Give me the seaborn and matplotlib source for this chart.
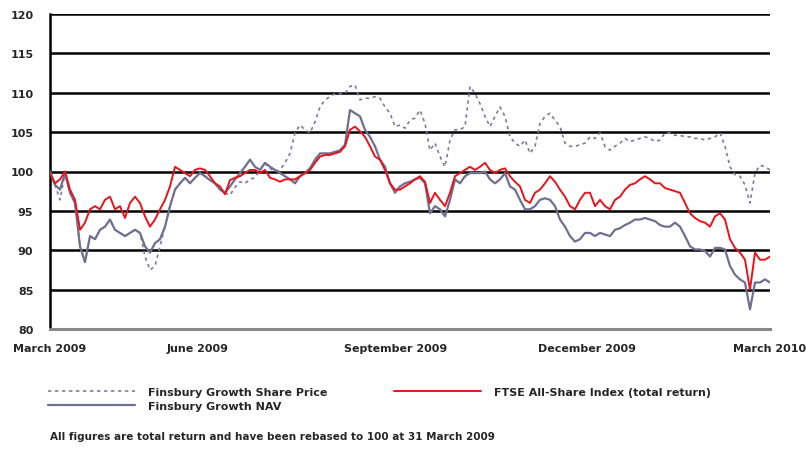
import numpy as np
import pandas as pd
import matplotlib
matplotlib.use("Agg")
import matplotlib.pyplot as plt
import seaborn as sns

start_date = "2009-03-31"
end_date = "2010-03-31"

ftse = [99.8, 98.5, 99.0, 100.0, 97.7, 96.4, 92.6, 93.5, 95.2, 95.6, 95.2, 96.4, 96.8, 95.2, 95.6,
        94.1, 96.0, 96.8, 96.0, 94.3, 93.0, 93.9, 95.2, 96.4, 98.1, 100.6, 100.2, 99.8, 99.4, 100.2,
        100.4, 100.2, 99.4, 98.5, 98.1, 97.1, 98.9, 99.2, 99.4, 99.8, 100.2, 100.2, 99.8, 100.2, 99.2,
        99.0, 98.7, 99.0, 99.0, 99.0, 99.4, 99.8, 100.2, 101.1, 101.9, 102.1, 102.1, 102.3, 102.5, 103.2,
        105.3, 105.7, 105.1, 104.4, 103.2, 101.9, 101.5, 100.2, 98.5, 97.7, 97.7, 98.1, 98.5, 99.0, 99.4,
        98.7, 96.0, 97.3, 96.4, 95.6, 97.3, 99.4, 99.8, 100.2, 100.6, 100.2, 100.6, 101.1, 100.2, 99.8,
        100.2, 100.4, 99.4, 98.7, 98.1, 96.4, 96.0, 97.3, 97.7, 98.5, 99.4, 98.7, 97.7, 96.8, 95.6,
        95.2, 96.4, 97.3, 97.3, 95.6, 96.4, 95.6, 95.2, 96.4, 96.8, 97.7, 98.3, 98.5, 99.0, 99.4,
        99.0, 98.5, 98.5, 97.9, 97.7, 97.5, 97.3, 96.0, 94.7, 94.1, 93.7, 93.5, 93.0, 94.3, 94.7,
        93.9, 91.4, 90.3, 89.7, 88.8, 85.0, 89.7, 88.8, 88.8, 89.2]

nav = [100.0, 98.3, 97.7, 99.8, 97.3, 96.0, 90.5, 88.5, 91.8, 91.4, 92.6, 93.0, 93.9, 92.6, 92.2,
       91.8, 92.2, 92.6, 92.2, 90.5, 89.7, 90.9, 91.4, 93.0, 95.6, 97.7, 98.5, 99.2, 98.5, 99.2,
       99.8, 99.4, 98.9, 98.5, 97.7, 97.3, 98.1, 99.0, 99.8, 100.6, 101.5, 100.6, 100.2, 101.1, 100.6,
       100.2, 99.8, 99.4, 99.0, 98.5, 99.4, 99.8, 100.4, 101.5, 102.3, 102.3, 102.3, 102.5, 102.7, 103.4,
       107.8, 107.4, 107.0, 105.3, 104.4, 103.2, 101.5, 100.6, 98.5, 97.3, 98.1, 98.5, 98.7, 99.0, 99.2,
       98.5, 94.7, 95.6, 95.2, 94.3, 96.4, 99.0, 98.5, 99.4, 99.8, 99.8, 99.8, 100.0, 99.0, 98.5,
       99.0, 99.8, 98.1, 97.7, 96.4, 95.2, 95.2, 95.6, 96.4, 96.6, 96.4, 95.6, 93.9, 93.0, 91.8,
       91.1, 91.4, 92.2, 92.2, 91.8, 92.2, 92.0, 91.8, 92.6, 92.8, 93.2, 93.5, 93.9, 93.9, 94.1,
       93.9, 93.7, 93.2, 93.0, 93.0, 93.5, 93.0, 91.8, 90.5, 90.1, 90.1, 89.9, 89.2, 90.3, 90.3,
       90.1, 88.0, 86.9, 86.3, 85.9, 82.5, 85.9, 85.9, 86.3, 85.9]

share = [100.0, 98.3, 96.4, 99.8, 97.3, 96.0, 90.5, 88.5, 91.8, 91.4, 92.6, 93.0, 93.9, 92.6, 92.2,
         91.8, 92.2, 92.6, 92.2, 89.2, 87.5, 88.0, 90.5, 93.0, 95.6, 97.7, 98.5, 99.2, 98.5, 99.2,
         99.8, 99.4, 98.9, 98.5, 97.7, 97.3, 97.0, 98.0, 98.7, 98.5, 99.0, 99.2, 100.2, 101.0, 100.4,
         100.0, 100.2, 101.1, 102.3, 104.9, 105.9, 105.3, 104.9, 106.3, 108.2, 109.1, 109.5, 109.9, 109.9, 109.9,
         110.8, 111.0, 109.1, 109.3, 109.3, 109.5, 109.3, 108.2, 107.4, 105.7, 105.9, 105.5, 106.5, 106.8, 107.8,
         106.1, 102.7, 103.6, 101.9, 100.6, 104.0, 105.3, 105.3, 105.7, 110.8, 109.9, 108.6, 107.0, 105.7, 107.0,
         108.2, 107.0, 104.4, 103.6, 103.2, 104.0, 102.3, 103.2, 106.1, 107.0, 107.4, 106.5, 105.7, 103.6, 103.2,
         103.2, 103.4, 103.6, 104.4, 104.2, 104.9, 103.2, 102.7, 103.2, 103.6, 104.2, 103.8, 104.0, 104.2, 104.4,
         104.2, 103.8, 104.0, 104.9, 104.9, 104.6, 104.6, 104.4, 104.4, 104.2, 104.2, 104.0, 104.2, 104.4, 104.9,
         103.2, 100.6, 99.6, 99.4, 98.3, 96.0, 99.8, 100.8, 100.6, 100.2]

series_names = ["Finsbury Growth Share Price", "Finsbury Growth NAV", "FTSE All-Share Index (total return)"]
y_ticks = [80, 85, 90, 95, 100, 105, 110, 115, 120]
x_tick_dates = ["2009-03-31", "2009-06-14", "2009-09-22", "2009-12-28", "2010-03-31"]
x_tick_labels = ["March 2009", "June 2009", "September 2009", "December 2009", "March 2010"]
footnote = "All figures are total return and have been rebased to 100 at 31 March 2009"

dates = pd.date_range(start_date, end_date, periods=len(ftse))
df = pd.DataFrame({"date": dates, series_names[0]: share, series_names[1]: nav, series_names[2]: ftse})

sns.set_theme(style="white")
plt.rcParams["font.family"] = ["DejaVu Sans"]

fig = plt.figure(figsize=(8.06, 4.56), dpi=100)
ax = fig.add_axes([50/806, 1-330/456, 720/806, 315/456])

for y in y_ticks:
    ax.axhline(y, color="black", lw=1.8, zorder=1)

sns.lineplot(data=df, x="date", y=series_names[0], ax=ax, color="#7b7b9c", lw=1.2,
             linestyle=(0, (2.0, 2.2)), label=series_names[0], zorder=3)
sns.lineplot(data=df, x="date", y=series_names[1], ax=ax, color="#6f6f92", lw=1.6,
             label=series_names[1], zorder=3)
sns.lineplot(data=df, x="date", y=series_names[2], ax=ax, color="#e8141c", lw=1.4,
             label=series_names[2], zorder=4)

ax.set_xlim(pd.Timestamp(start_date), pd.Timestamp(end_date))
ax.set_ylim(80, 120)
ax.set_yticks(y_ticks)
ax.set_yticklabels([str(v) for v in y_ticks], fontsize=8, fontweight="bold")
ax.set_xticks(pd.to_datetime(x_tick_dates))
ax.set_xticklabels(x_tick_labels, fontsize=8, fontweight="bold")
ax.tick_params(axis="x", length=0, pad=10)
ax.tick_params(axis="y", length=0, pad=12)
ax.set_xlabel("")
ax.set_ylabel("")
for s in ["top", "right"]:
    ax.spines[s].set_visible(False)
ax.spines["left"].set_color("black")
ax.spines["left"].set_linewidth(1.8)
ax.spines["bottom"].set_color("#888888")
ax.spines["bottom"].set_linewidth(2.2)

handles, labels = ax.get_legend_handles_labels()
ax.get_legend().remove()
leg = fig.legend(handles, labels, ncol=2,
                 loc="upper left", bbox_to_anchor=(38/806, 1-378/456), frameon=False,
                 handlelength=7.8, columnspacing=6.0, handletextpad=1.2, labelspacing=0.35,
                 prop={"size": 8, "weight": "bold"})

fig.text(50/806, 1-437/456, footnote, fontsize=7.5, fontweight="bold", va="center", ha="left")

fig.savefig("out.png", dpi=100)
